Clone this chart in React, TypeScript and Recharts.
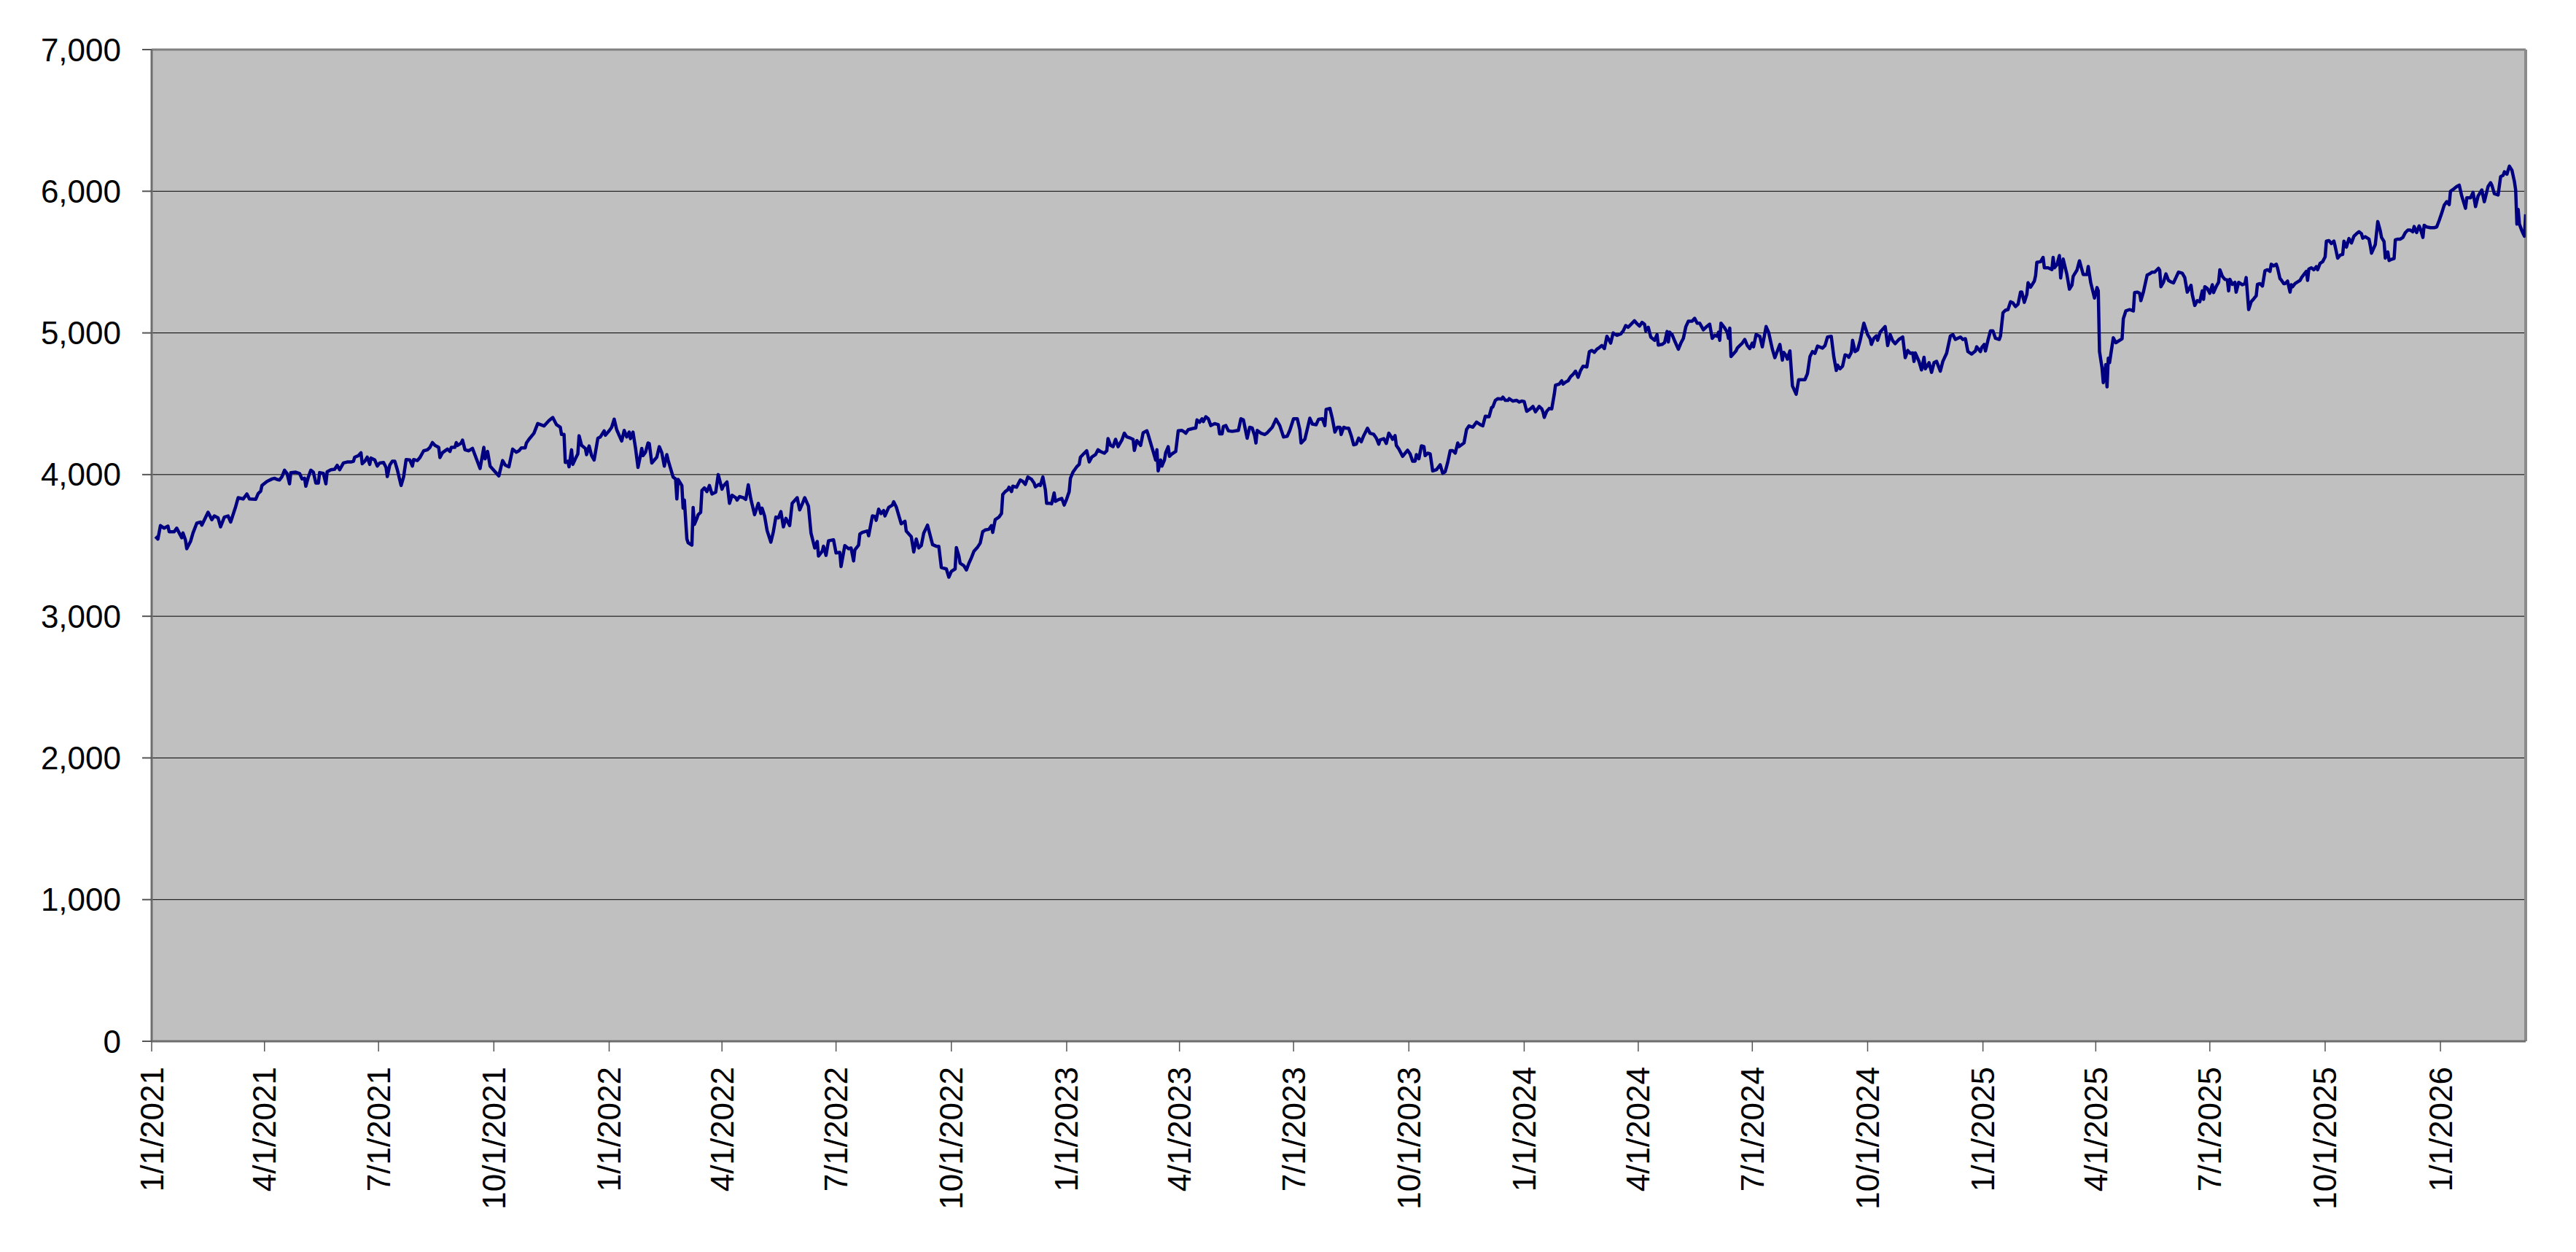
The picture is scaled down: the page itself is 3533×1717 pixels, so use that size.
import React from 'react';
import { LineChart, Line, XAxis, YAxis, CartesianGrid, ReferenceLine } from 'recharts';

// Day offsets are counted from 1/1/2021.
const BASE_DATE = Date.UTC(2021, 0, 1);
const LAST_DAY = 1894;

const xTickLabels = [
  '1/1/2021', '4/1/2021', '7/1/2021', '10/1/2021',
  '1/1/2022', '4/1/2022', '7/1/2022', '10/1/2022',
  '1/1/2023', '4/1/2023', '7/1/2023', '10/1/2023',
  '1/1/2024', '4/1/2024', '7/1/2024', '10/1/2024',
  '1/1/2025', '4/1/2025', '7/1/2025', '10/1/2025',
  '1/1/2026',
];
const yTicks = [0, 1000, 2000, 3000, 4000, 5000, 6000, 7000];

// [dayOffset, value]
const p2021: [number, number][] = [
  [3, 3562], [5, 3545], [7, 3640], [10, 3622], [13, 3636], [14, 3597], [18, 3597], [20, 3622], [21, 3605], [24, 3554],
  [25, 3588], [27, 3537], [28, 3477], [31, 3528], [33, 3588], [36, 3657], [39, 3665], [40, 3643], [45, 3734], [48, 3682],
  [50, 3708], [53, 3694], [55, 3631], [58, 3700], [61, 3708], [63, 3665], [67, 3773], [69, 3837], [73, 3828], [76, 3863],
  [78, 3828], [83, 3825], [85, 3866], [87, 3883], [88, 3923], [92, 3952], [96, 3969], [98, 3974], [100, 3966], [102, 3962],
  [104, 3986], [106, 4031], [108, 4008], [110, 3935], [111, 4014], [115, 4017], [118, 4008], [120, 3969], [122, 3974], [123, 3918],
  [125, 3983], [127, 4031], [129, 4017], [131, 3940], [133, 3940], [134, 4014], [137, 4008], [139, 3935], [140, 4020], [143, 4034],
  [146, 4038], [148, 4065], [150, 4034], [153, 4082], [156, 4089], [159, 4089], [161, 4094], [162, 4123], [165, 4134], [167, 4154],
  [168, 4077], [170, 4094], [172, 4123], [174, 4072], [175, 4117], [178, 4103], [180, 4060], [182, 4082], [185, 4086], [187, 4051],
  [188, 3986], [190, 4068], [192, 4094], [194, 4094], [196, 4034], [199, 3923], [201, 3983], [203, 4106], [206, 4103], [208, 4060],
  [209, 4106], [212, 4099], [214, 4120], [217, 4168], [220, 4175], [222, 4192], [224, 4226], [226, 4206], [229, 4192], [230, 4120],
  [232, 4154], [236, 4180], [238, 4163], [239, 4192], [242, 4192], [243, 4226], [244, 4206], [247, 4223], [248, 4243], [250, 4175],
  [253, 4168], [256, 4185], [258, 4137], [262, 4043], [265, 4192], [266, 4111], [268, 4163], [270, 4060], [274, 4020], [277, 3991],
  [279, 4065], [280, 4099], [282, 4068], [285, 4055], [288, 4180], [291, 4158], [293, 4168], [295, 4189], [298, 4189], [299, 4223],
  [301, 4249], [305, 4292], [308, 4360], [313, 4343], [317, 4381], [320, 4403], [323, 4352], [326, 4334], [327, 4283], [329, 4283],
  [330, 4086], [332, 4094], [333, 4055], [335, 4175], [336, 4072], [338, 4111], [340, 4146], [341, 4274], [343, 4206], [346, 4185],
  [347, 4141], [349, 4202], [351, 4134], [353, 4103], [356, 4257], [358, 4266], [361, 4309], [362, 4278],
];

const p2022: [number, number][] = [
  [365, 4309], [367, 4334], [369, 4391], [371, 4317], [375, 4237], [377, 4312], [379, 4266], [381, 4300], [382, 4254], [384, 4300],
  [386, 4189], [388, 4051], [390, 4137], [391, 4185], [392, 4134], [394, 4158], [396, 4223], [397, 4219], [399, 4082], [403, 4123],
  [405, 4197], [407, 4154], [409, 4060], [411, 4141], [412, 4103], [416, 3983], [418, 3969], [419, 3828], [420, 3966], [423, 3923],
  [424, 3763], [425, 3820], [427, 3545], [428, 3519], [431, 3502], [432, 3768], [433, 3648], [435, 3691], [436, 3717], [438, 3734],
  [439, 3888], [441, 3906], [443, 3880], [445, 3923], [447, 3863], [450, 3876], [452, 4000], [455, 3897], [456, 3918], [459, 3948],
  [461, 3797], [463, 3854], [466, 3837], [467, 3820], [469, 3845], [472, 3837], [474, 3825], [476, 3928], [478, 3828], [481, 3717],
  [484, 3797], [486, 3725], [487, 3763], [489, 3708], [491, 3605], [494, 3523], [496, 3597], [498, 3700], [500, 3694], [502, 3739],
  [504, 3631], [506, 3691], [509, 3640], [511, 3797], [515, 3837], [517, 3751], [519, 3791], [521, 3837], [524, 3777], [526, 3588],
  [529, 3482], [531, 3528], [532, 3425], [535, 3459], [536, 3494], [538, 3430], [540, 3533], [544, 3540], [546, 3447], [549, 3451],
  [550, 3351], [553, 3499], [556, 3477], [558, 3482], [560, 3391], [561, 3468], [564, 3502], [565, 3580], [567, 3592], [571, 3602],
  [572, 3568], [575, 3708], [577, 3705], [578, 3677], [580, 3756], [582, 3725], [584, 3746], [585, 3708], [588, 3768], [591, 3785],
  [592, 3808], [594, 3773], [598, 3653], [601, 3670], [602, 3602], [606, 3562], [608, 3454], [610, 3545], [612, 3482], [614, 3499],
  [616, 3588], [619, 3643], [623, 3506], [626, 3494], [628, 3494], [630, 3344], [634, 3334], [636, 3276], [638, 3317], [641, 3334],
  [642, 3485], [644, 3425], [645, 3374], [648, 3357], [650, 3327], [652, 3374], [654, 3413], [656, 3459], [659, 3489], [661, 3516],
  [663, 3597], [665, 3609], [668, 3614], [670, 3640], [671, 3592], [673, 3682], [676, 3700], [678, 3725], [679, 3859], [681, 3880],
  [683, 3893], [684, 3911], [686, 3880], [687, 3918], [690, 3911], [693, 3962], [695, 3952], [697, 3931], [699, 3983], [702, 3966],
  [704, 3940], [705, 3914], [708, 3931], [709, 3923], [711, 3983], [713, 3893], [714, 3797], [717, 3797], [718, 3794], [720, 3871],
  [721, 3811], [724, 3825], [726, 3832], [727, 3811], [728, 3785],
];

const p2023: [number, number][] = [
  [730, 3828], [732, 3880], [733, 3974], [735, 4017], [738, 4055], [740, 4072], [741, 4123], [744, 4151], [746, 4168], [748, 4089],
  [750, 4123], [753, 4141], [755, 4175], [757, 4163], [760, 4151], [762, 4168], [763, 4254], [765, 4206], [767, 4197], [769, 4249],
  [771, 4197], [774, 4243], [776, 4292], [778, 4266], [781, 4257], [783, 4249], [784, 4171], [786, 4240], [789, 4206], [791, 4295],
  [794, 4309], [795, 4283], [797, 4223], [801, 4103], [802, 4175], [803, 4026], [805, 4103], [806, 4060], [808, 4103], [809, 4154],
  [811, 4197], [812, 4129], [814, 4146], [817, 4163], [819, 4309], [822, 4312], [824, 4300], [825, 4292], [827, 4317], [831, 4326],
  [833, 4329], [834, 4386], [836, 4369], [838, 4394], [839, 4374], [841, 4408], [843, 4394], [845, 4346], [848, 4360], [851, 4352],
  [852, 4288], [854, 4288], [855, 4340], [857, 4346], [859, 4309], [862, 4305], [865, 4309], [867, 4312], [869, 4394], [871, 4386],
  [874, 4257], [876, 4334], [878, 4329], [880, 4274], [881, 4223], [882, 4312], [885, 4292], [888, 4283], [890, 4295], [894, 4334],
  [897, 4391], [900, 4346], [903, 4266], [906, 4271], [908, 4312], [911, 4394], [914, 4394], [916, 4317], [917, 4223], [920, 4249],
  [922, 4322], [924, 4398], [926, 4357], [929, 4352], [931, 4391], [934, 4394], [936, 4346], [937, 4460], [940, 4467], [942, 4394],
  [944, 4300], [946, 4334], [948, 4334], [949, 4283], [951, 4334], [953, 4327], [955, 4327], [957, 4275], [959, 4210], [961, 4215],
  [963, 4258], [965, 4232], [967, 4275], [970, 4327], [972, 4292], [975, 4284], [977, 4258], [979, 4215], [980, 4244], [983, 4254],
  [985, 4220], [987, 4292], [989, 4266], [990, 4249], [992, 4275], [993, 4206], [995, 4181], [998, 4129], [1002, 4172], [1004, 4146],
  [1006, 4095], [1008, 4095], [1009, 4141], [1011, 4112], [1013, 4203], [1015, 4198], [1016, 4134], [1018, 4151], [1020, 4146], [1022, 4026],
  [1025, 4035], [1028, 4069], [1030, 4009], [1032, 4021], [1034, 4086], [1036, 4169], [1038, 4169], [1040, 4151], [1042, 4223], [1043, 4198],
  [1047, 4223], [1049, 4318], [1051, 4344], [1054, 4335], [1057, 4370], [1060, 4352], [1062, 4344], [1064, 4412], [1067, 4409], [1069, 4473],
  [1070, 4478], [1072, 4524], [1074, 4536], [1077, 4533], [1078, 4547], [1080, 4524], [1082, 4524], [1083, 4536], [1086, 4519], [1089, 4524],
  [1091, 4512], [1093, 4519],
];

const p2024: [number, number][] = [
  [1095, 4515], [1097, 4447], [1100, 4464], [1102, 4481], [1104, 4443], [1107, 4481], [1109, 4464], [1110, 4443], [1111, 4404], [1113, 4447],
  [1115, 4467], [1117, 4464], [1119, 4567], [1120, 4632], [1123, 4639], [1125, 4662], [1126, 4639], [1128, 4653], [1130, 4662], [1132, 4691],
  [1134, 4708], [1136, 4730], [1138, 4687], [1140, 4735], [1142, 4765], [1145, 4760], [1147, 4868], [1149, 4876], [1151, 4863], [1153, 4885],
  [1155, 4897], [1157, 4911], [1159, 4890], [1161, 4976], [1163, 4945], [1164, 4928], [1166, 5000], [1169, 4983], [1172, 4993], [1174, 5014],
  [1176, 5052], [1178, 5040], [1183, 5086], [1185, 5065], [1187, 5048], [1189, 5074], [1191, 5062], [1192, 5014], [1194, 5040], [1196, 4971],
  [1199, 4948], [1201, 4988], [1202, 4914], [1205, 4919], [1207, 4931], [1209, 5010], [1210, 4936], [1211, 5005], [1213, 4988], [1215, 4945],
  [1218, 4885], [1220, 4928], [1222, 4962], [1224, 5045], [1226, 5083], [1229, 5083], [1231, 5103], [1233, 5069], [1235, 5069], [1238, 5022],
  [1240, 5040], [1243, 5062], [1245, 4962], [1247, 4983], [1249, 4976], [1250, 5005], [1251, 4948], [1252, 5069], [1255, 5034], [1257, 5005],
  [1258, 4962], [1259, 5034], [1260, 4833], [1264, 4873], [1265, 4893], [1267, 4911], [1269, 4928], [1271, 4954], [1273, 4911], [1275, 4890],
  [1277, 4928], [1278, 4902], [1280, 4988], [1283, 4976], [1285, 4902], [1288, 5045], [1290, 5005], [1293, 4885], [1295, 4825], [1299, 4919],
  [1301, 4808], [1302, 4863], [1304, 4839], [1305, 4816], [1307, 4873], [1309, 4627], [1312, 4567], [1314, 4670], [1319, 4670], [1321, 4713],
  [1323, 4833], [1325, 4868], [1327, 4856], [1329, 4907], [1333, 4893], [1335, 4911], [1337, 4971], [1340, 4976], [1342, 4833], [1344, 4735],
  [1345, 4773], [1347, 4747], [1349, 4765], [1351, 4845], [1353, 4839], [1354, 4828], [1356, 4863], [1357, 4948], [1359, 4868], [1361, 4880],
  [1363, 4945], [1366, 5069], [1369, 4988], [1371, 4959], [1372, 4919], [1374, 4962], [1376, 4979], [1377, 4948], [1379, 5005], [1383, 5045],
  [1385, 4911], [1387, 4988], [1389, 4945], [1391, 4924], [1394, 4954], [1397, 4971], [1399, 4825], [1401, 4876], [1403, 4856], [1405, 4859],
  [1406, 4799], [1407, 4859], [1410, 4799], [1412, 4739], [1414, 4828], [1415, 4747], [1418, 4790], [1420, 4722], [1422, 4790], [1424, 4799],
  [1427, 4730], [1429, 4799], [1432, 4856], [1435, 4979], [1437, 4988], [1439, 4954], [1443, 4971], [1445, 4954], [1447, 4959], [1449, 4868],
  [1452, 4851], [1455, 4873], [1456, 4902], [1459, 4868], [1460, 4897],
];

const p2025: [number, number][] = [
  [1462, 4919], [1463, 4873], [1465, 4948], [1467, 5014], [1469, 5014], [1471, 4962], [1474, 4954], [1475, 4979], [1477, 5143], [1479, 5160],
  [1481, 5165], [1483, 5220], [1485, 5211], [1487, 5186], [1489, 5203], [1491, 5289], [1492, 5289], [1494, 5216], [1496, 5271], [1497, 5354],
  [1499, 5323], [1502, 5366], [1503, 5405], [1504, 5498], [1507, 5503], [1509, 5533], [1510, 5460], [1513, 5460], [1516, 5447], [1517, 5533],
  [1518, 5460], [1520, 5481], [1522, 5546], [1523, 5388], [1525, 5521], [1528, 5412], [1530, 5309], [1532, 5337], [1533, 5400], [1536, 5443],
  [1538, 5509], [1541, 5412], [1544, 5412], [1545, 5469], [1547, 5354], [1550, 5246], [1552, 5320], [1553, 5297], [1554, 4868], [1556, 4753],
  [1557, 4649], [1559, 4777], [1560, 4619], [1561, 4821], [1562, 4790], [1565, 4966], [1567, 4931], [1572, 4959], [1573, 5100], [1575, 5155],
  [1578, 5165], [1581, 5155], [1582, 5285], [1584, 5288], [1586, 5280], [1587, 5228], [1589, 5288], [1592, 5408], [1594, 5417], [1596, 5429],
  [1598, 5429], [1601, 5456], [1602, 5443], [1603, 5326], [1605, 5357], [1607, 5417], [1609, 5371], [1611, 5360], [1613, 5353], [1615, 5391],
  [1617, 5429], [1620, 5422], [1622, 5391], [1624, 5288], [1627, 5336], [1628, 5271], [1630, 5194], [1632, 5228], [1634, 5220], [1636, 5297],
  [1637, 5237], [1638, 5326], [1640, 5314], [1642, 5280], [1644, 5340], [1645, 5285], [1647, 5326], [1649, 5357], [1650, 5446], [1652, 5400],
  [1654, 5378], [1656, 5374], [1657, 5297], [1658, 5378], [1660, 5343], [1662, 5357], [1663, 5288], [1665, 5357], [1668, 5340], [1670, 5348],
  [1671, 5391], [1673, 5165], [1675, 5220], [1677, 5240], [1679, 5262], [1680, 5343], [1682, 5348], [1684, 5331], [1686, 5439], [1688, 5446],
  [1690, 5434], [1691, 5485], [1693, 5473], [1695, 5485], [1696, 5460], [1698, 5383], [1699, 5374], [1701, 5348], [1702, 5348], [1704, 5366],
  [1706, 5288], [1707, 5340], [1708, 5326], [1710, 5348], [1712, 5360], [1714, 5371], [1715, 5388], [1717, 5412], [1719, 5434], [1720, 5371],
  [1721, 5451], [1723, 5460], [1725, 5446], [1727, 5468], [1728, 5446], [1730, 5491], [1732, 5503], [1734, 5537], [1735, 5648], [1737, 5652],
  [1739, 5631], [1741, 5648], [1742, 5611], [1744, 5528], [1746, 5549], [1748, 5554], [1749, 5648], [1751, 5606], [1753, 5666], [1755, 5635],
  [1757, 5683], [1759, 5700], [1761, 5714], [1763, 5700], [1764, 5669], [1766, 5679], [1769, 5662], [1770, 5617], [1771, 5563], [1774, 5623],
  [1776, 5786], [1778, 5720], [1779, 5674], [1781, 5645], [1782, 5528], [1784, 5571], [1785, 5511], [1787, 5520], [1789, 5525], [1790, 5657],
  [1792, 5662], [1794, 5662], [1796, 5674], [1798, 5708], [1800, 5726], [1802, 5726], [1804, 5714], [1805, 5751], [1807, 5708], [1809, 5755],
  [1810, 5734], [1812, 5674], [1813, 5760], [1815, 5748], [1818, 5743], [1821, 5743], [1823, 5748], [1825, 5794],
];

const p2026: [number, number][] = [
  [1827, 5846], [1829, 5902], [1831, 5926], [1833, 5906], [1834, 6000], [1836, 6012], [1839, 6034], [1841, 6043], [1843, 5966], [1846, 5880],
  [1847, 5954], [1850, 5954], [1852, 5992], [1854, 5892], [1856, 5966], [1859, 6009], [1861, 5926], [1864, 6034], [1866, 6060], [1867, 6043],
  [1869, 5983], [1872, 5974], [1874, 6103], [1876, 6112], [1877, 6137], [1879, 6120], [1881, 6177], [1883, 6149], [1885, 6069], [1886, 6009],
  [1887, 5768], [1888, 5871], [1889, 5768], [1891, 5720], [1892, 5700], [1893, 5683], [1894, 5837],
];

const data = [...p2021, ...p2022, ...p2023, ...p2024, ...p2025, ...p2026].map(([day, value]) => ({ day, value }));

const labelToDay = (s: string) => {
  const [m, d, y] = s.split('/').map(Number);
  return Math.round((Date.UTC(y, m - 1, d) - BASE_DATE) / 86400000);
};
const xTicks = xTickLabels.map(labelToDay);

const FONT = '"Liberation Sans", Arial, Helvetica, sans-serif';

const XTick = (props: any) => {
  const { x, y, payload } = props;
  const idx = xTicks.indexOf(payload.value);
  const label = idx >= 0 ? xTickLabels[idx] : '';
  return (
    <text
      x={x}
      y={y}
      transform={`rotate(-90 ${x} ${y})`}
      textAnchor="end"
      dominantBaseline="central"
      fontSize={44}
      fontFamily={FONT}
      fill="#000"
    >
      {label}
    </text>
  );
};

export default function App() {
  return (
    <div style={{ position: 'absolute', left: 0, top: 0, width: 3533, height: 1717, background: '#fff' }}>
      <LineChart width={3533} height={1717} data={data} margin={{ top: 68, right: 69, bottom: 0, left: 0 }}>
        <CartesianGrid vertical={false} fill="#C0C0C0" fillOpacity={1} stroke="#000" strokeWidth={1} />
        <XAxis
          type="number"
          dataKey="day"
          domain={[0, LAST_DAY]}
          ticks={xTicks}
          interval={0}
          height={289}
          tickSize={14}
          tickMargin={21}
          tick={XTick}
          axisLine={{ stroke: '#6e6e6e', strokeWidth: 3 }}
          tickLine={{ stroke: '#555', strokeWidth: 1.5 }}
          allowDataOverflow
        />
        <YAxis
          type="number"
          domain={[0, 7000]}
          ticks={yTicks}
          interval={0}
          width={208}
          tickSize={13}
          tickMargin={29}
          tickFormatter={(v: number) => v.toLocaleString('en-US')}
          tick={{ fontSize: 44, fill: '#000', fontFamily: FONT }}
          axisLine={{ stroke: '#6e6e6e', strokeWidth: 3 }}
          tickLine={{ stroke: '#555', strokeWidth: 2 }}
        />
        <ReferenceLine y={7000} stroke="#808080" strokeWidth={3} />
        <ReferenceLine x={LAST_DAY} stroke="#8a8a8a" strokeWidth={4} />
        <Line
          type="linear"
          dataKey="value"
          stroke="#000080"
          strokeWidth={4.5}
          strokeLinejoin="round"
          dot={false}
          activeDot={false}
          isAnimationActive={false}
        />
      </LineChart>
    </div>
  );
}
